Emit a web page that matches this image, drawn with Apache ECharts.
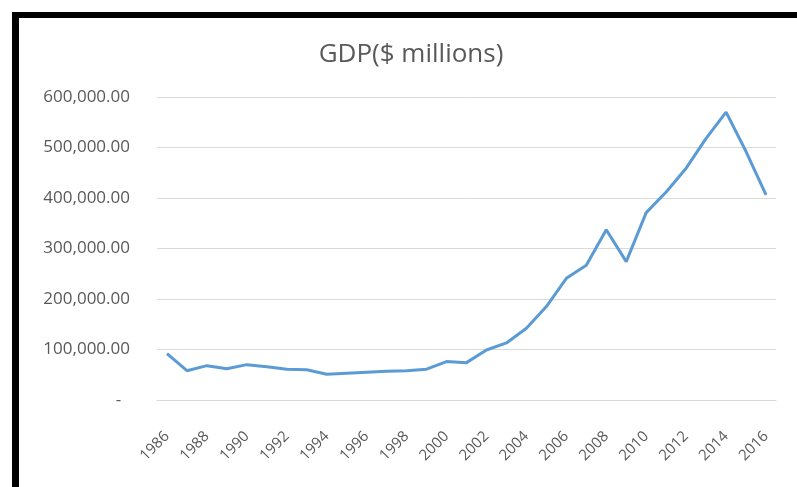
<!DOCTYPE html>
<html>
<head>
<meta charset="utf-8">
<script src="https://cdn.jsdelivr.net/npm/echarts@6/dist/echarts.min.js"></script>
<style>html,body{margin:0;padding:0;background:#fff}#c{width:797px;height:487px}</style>
</head>
<body>
<div id="c"></div>
<script>
var years = ['1986','1987','1988','1989','1990','1991','1992','1993','1994','1995','1996','1997','1998','1999','2000','2001','2002','2003','2004','2005','2006','2007','2008','2009','2010','2011','2012','2013','2014','2015','2016'];
var gdp = [92000,58000,68000,62000,70000,66000,61000,60000,51000,53000,55000,57000,58000,61000,76000,74000,99000,113000,142000,185000,241000,267000,337000,274000,371000,412000,459000,518000,570000,492000,406000];
var yTicks = {min:0, max:600000, interval:100000};
var titleText = 'GDP($ millions)';

var chart = echarts.init(document.getElementById('c'));
var grey = '#595959';
var font = '"Open Sans", sans-serif';
chart.setOption({
  animation:false,
  backgroundColor:'#fff',
  title:{text:titleText, left:406, textAlign:'center', top:37,
    textStyle:{fontFamily:font, fontWeight:'normal', fontSize:26, color:grey}},
  grid:{left:157, right:21, top:97, bottom:87, containLabel:false},
  xAxis:{type:'category', data:years, boundaryGap:true,
    axisLine:{lineStyle:{color:'#D9D9D9', width:1}},
    axisTick:{show:false},
    axisLabel:{interval:1, rotate:45, fontSize:15, color:grey, fontFamily:font, margin:34}},
  yAxis:{type:'value', min:yTicks.min, max:yTicks.max, interval:yTicks.interval,
    axisLine:{show:false}, axisTick:{show:false},
    splitLine:{lineStyle:{color:'#D9D9D9', width:1}},
    axisLabel:{fontSize:17, color:grey, fontFamily:font, margin:27,
      formatter:function(v){ if(v===0) return '-  '; return v.toLocaleString('en-US',{minimumFractionDigits:2, maximumFractionDigits:2}); }}},
  series:[{type:'line', data:gdp, showSymbol:false, smooth:false,
    lineStyle:{color:'#5B9BD5', width:3}, itemStyle:{color:'#5B9BD5'}}],
  graphic:[
    {type:'rect', shape:{x:12, y:12, width:7, height:475}, style:{fill:'#000'}},
    {type:'rect', shape:{x:12, y:12, width:785, height:6}, style:{fill:'#000'}}
  ]
});
</script>
</body>
</html>
